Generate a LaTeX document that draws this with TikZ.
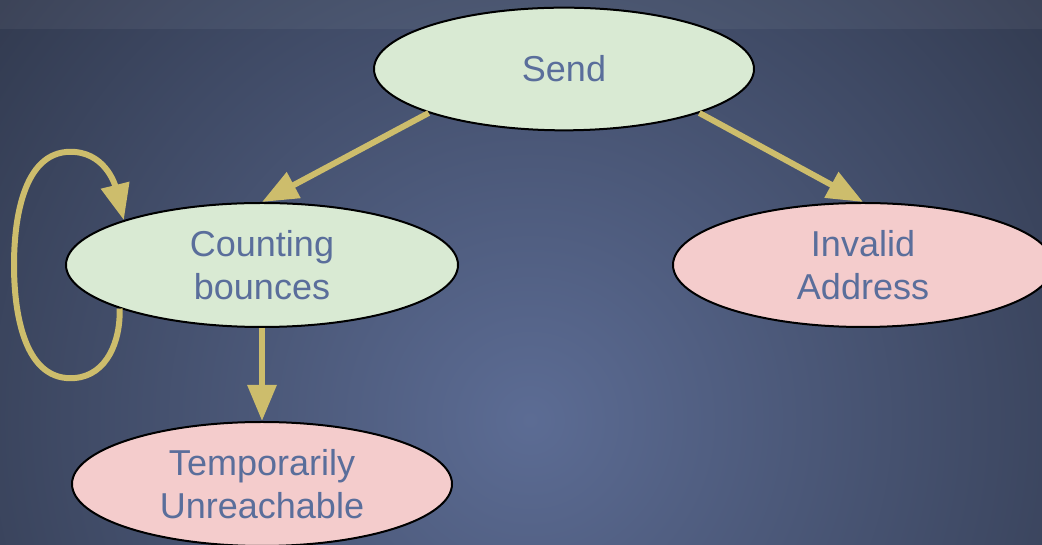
\documentclass[tikz,border=0pt]{standalone}
\usepackage{fontspec}
\setmainfont{Liberation Sans}
\usetikzlibrary{shapes.geometric, arrows.meta}
\definecolor{bginner}{RGB}{92,108,148}
\definecolor{bgouter}{RGB}{36,42,57}
\definecolor{okfill}{RGB}{217,234,211}
\definecolor{failfill}{RGB}{244,204,204}
\definecolor{labelblue}{RGB}{90,110,155}
\definecolor{flowgold}{RGB}{205,189,108}

\begin{document}
\begin{tikzpicture}[x=0.75pt, y=0.75pt,
    stateshape/.style={ellipse, draw=black, line width=1.5pt, inner sep=0pt,
        text=labelblue, align=center, font=\fontsize{27}{32}\selectfont,
        minimum width=285pt, minimum height=92pt},
    okstate/.style={stateshape, fill=okfill},
    failstate/.style={stateshape, fill=failfill},
    flow/.style={draw=flowgold, line width=4.5pt, -{Triangle[length=27pt, width=21pt]}}]
    % Background
    \useasboundingbox (0,0) rectangle (1042,545);
    \begin{scope}
        \clip (0,0) rectangle (1042,545);
        \shade[inner color=bginner, outer color=bgouter] (530,125) circle (900);
    \end{scope}
    \fill[white, opacity=0.05] (0,516) rectangle (1042,545);

    % States
    \node[okstate] (send) at (564,476) {Send};
    \node[okstate, minimum width=294pt, minimum height=93pt] (count) at (262,280) {Counting\\bounces};
    \node[failstate, minimum height=93pt] (invalid) at (863,280) {Invalid\\Address};
    \node[failstate, minimum height=93pt] (temp) at (262,61) {Temporarily\\Unreachable};

    % Transitions
    \draw[flow] (send.198) -- (count.north);
    \draw[flow] (send.-18) -- (invalid.north);
    \draw[flow] (count.south) -- (temp.north);

    % Self loop
    \draw[flow] (count.197) to[out=-88, in=5] (75,167) to[out=185, in=-90] (14,280)
        to[out=90, in=175] (75,393) to[out=-5, in=104] (count.162);
\end{tikzpicture}
\end{document}
